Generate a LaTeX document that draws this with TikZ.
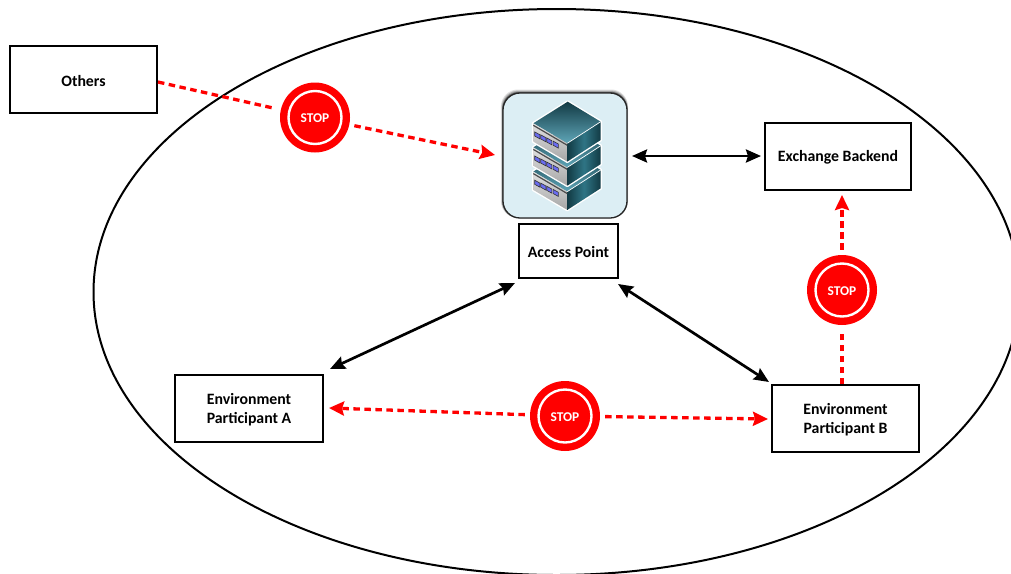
\documentclass[tikz,border=0pt]{standalone}
\usepackage{fontspec}
\setmainfont{Carlito}
\usetikzlibrary{arrows.meta,calc}
\definecolor{stopred}{HTML}{FF0000}
\definecolor{tilefill}{HTML}{DCEEF4}
\definecolor{tealdark}{HTML}{123A44}
\definecolor{teallite}{HTML}{5FA6B8}
\definecolor{tealmid}{HTML}{2F7585}
\definecolor{winblue}{HTML}{6A6CF0}
\newcommand{\boxup}{\rule{0pt}{13.6pt}}
\newcommand{\stopup}{\rule{0pt}{10.6pt}}
\tikzset{
  box/.style={draw=black,line width=2pt,fill=white,align=center,font=\fontsize{15.8}{19}\selectfont\bfseries,inner sep=0pt},
  stopsign/.style={circle,fill=stopred,minimum size=70pt,inner sep=0pt,text=white,font=\fontsize{13.4}{15}\selectfont\bfseries},
  blackarrow/.style={line width=2.7pt,{Stealth[length=15pt,width=13pt,inset=2pt]}-{Stealth[length=15pt,width=13pt,inset=2pt]}},
  redline/.style={stopred,line width=3.3pt,dash pattern=on 6.5pt off 4.5pt},
  redtip/.style={redline,-{Stealth[length=15pt,width=14pt,inset=2pt,color=stopred]}},
}
\newcommand{\srvunit}[1]{%
\begin{scope}[shift={(0,#1)}]
  \draw[white,line width=2.8pt,line join=round] (567.7,101.7)--(533.3,123.3)--(533.3,141.6)--(567.3,161.6)--(600.7,140)--(600.7,121.7)--cycle;
  \shade[top color=tealdark,bottom color=teallite] (567.7,101.7)--(533.3,123.3)--(567.3,143.3)--(600.7,121.7)--cycle;
  \shade[top color=white!88!black,bottom color=white!65!black] (533.3,123.3)--(567.3,143.3)--(567.3,161.6)--(533.3,141.6)--cycle;
  \shade[left color=tealdark,right color=tealdark,middle color=tealmid] (567.3,143.3)--(600.7,121.7)--(600.7,140)--(567.3,161.6)--cycle;
  \draw[black!70,line width=1.2pt] (533.3,125.3)--(567.3,145.3);
  \draw[white,line width=.7pt] (567.3,143.3)--(600.7,121.7);
  \foreach \wx/\wy in {537.3/135,543.3/137.9,549.3/141,555.7/144.2}{
    \draw[fill=winblue,draw=black!80,line width=.6pt] (\wx-2.6,\wy-3.1)--(\wx+2.6,\wy-.2)--(\wx+2.6,\wy+3.9)--(\wx-2.6,\wy+1)--cycle;}
\end{scope}}
\begin{document}
\begin{tikzpicture}[x=1pt,y=-1pt]
\useasboundingbox (0,0) rectangle (1011,573);
\clip (0,0) rectangle (1011,573);
\fill[white] (0,0) rectangle (1011,573);
\draw[black,line width=2pt] (556.5,292) ellipse [x radius=463,y radius=283];

% nodes
\node[box,minimum width=147pt,minimum height=67pt] (others) at (83.5,79.5) {\boxup Others};
\node[box,minimum width=146pt,minimum height=67pt] (exch) at (838,156.5) {\boxup Exchange Backend};
\node[box,minimum width=99pt,minimum height=54pt] (ap) at (568.5,251) {\boxup Access Point};
\node[box,minimum width=148pt,minimum height=67pt] (pa) at (249,408.5) {\boxup Environment\\Participant A};
\node[box,minimum width=147pt,minimum height=67pt] (pb) at (845.5,418.5) {\boxup Environment\\Participant B};

% server tile
\foreach \off/\op in {3.5/.12,2.5/.2,1.5/.3,.7/.4}{
  \fill[black,opacity=\op,rounded corners=17pt] (503-\off*.6,93-\off) rectangle (627+\off*.3,218);
}
\node[draw=black!85,line width=1.3pt,fill=tilefill,rounded corners=17pt,minimum width=124pt,minimum height=125pt,inner sep=0pt] (tile) at (565,155.5) {};
\srvunit{48.3}
\srvunit{24.1}
\srvunit{0}

% stop signs
\node[stopsign] (stopa) at (315,117.5) {\stopup STOP};
\node[stopsign] (stopb) at (842,290) {\stopup STOP};
\node[stopsign] (stopc) at (565,416) {\stopup STOP};
\foreach \s in {stopa,stopb,stopc}{\draw[white,line width=2.4pt] (\s.center) circle[radius=26.5pt];}

% black connectors
\coordinate (tileE) at (632,156);
\coordinate (exchW) at (761,156);
\coordinate (apSW) at (515,283);
\coordinate (paNE) at (330,369);
\coordinate (apSE) at (618,284);
\coordinate (pbNW) at (769,382);
\draw[blackarrow] (tileE) -- (exchW);
\draw[blackarrow] (apSW) -- (paNE);
\draw[blackarrow] (apSE) -- (pbNW);

% red connectors
\coordinate (othersE) at (158,82);
\coordinate (tileW) at (495,155);
\coordinate (paE) at (329,408);
\coordinate (pbW) at (768,419);
\coordinate (pbN) at (842,384);
\coordinate (exchS) at (842,195);
\draw[redline,shorten >=5pt] (othersE) -- (stopa);
\draw[redtip,shorten <=5pt] (stopa) -- (tileW);
\draw[redtip,shorten <=5pt] (stopc) -- (pbW);
\draw[redtip,shorten <=5pt] (stopc) -- (paE);
\draw[redtip,shorten <=5pt] (stopb) -- (exchS);
\draw[redline,shorten >=5pt] (pbN) -- (stopb);
\end{tikzpicture}
\end{document}
